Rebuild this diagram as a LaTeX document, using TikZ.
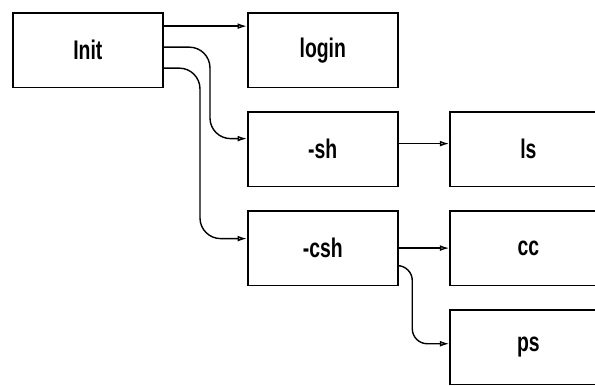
\documentclass[tikz,border=0pt]{standalone}
\usepackage{fontspec}
\usetikzlibrary{positioning,arrows.meta}
\newfontfamily\procfont{Liberation Sans}[FakeStretch=0.72]

\begin{document}
\begin{tikzpicture}[node distance=0.68cm and 2.5cm,>={Latex[open,length=8pt,width=5pt]},
  proc/.style={draw,line width=1.4pt,minimum width=4.5cm,minimum height=2.24cm,
               font=\procfont\bfseries\fontsize{23}{27}\selectfont},
  child/.style={proc,minimum width=4.7cm,anchor=west},
  link/.style={->,line width=1.2pt,rounded corners=0.62cm}]
\useasboundingbox (0,0) rectangle (17.85,-11.55);
\node[proc,anchor=north west] (init) at (0.36,-0.36) {Init};
\node[proc,right=of init] (login) {login};
\node[proc,below=of login] (sh) {-sh};
\node[proc,below=of sh] (csh) {-csh};
\node[child,right=1.52cm of sh] (ls) {ls};
\node[child,right=1.52cm of csh] (cc) {cc};
\node[child,below=0.68cm of cc.south west,anchor=north west] (ps) {ps};
\draw[link] ([yshift=0.72cm]init.east) -- ([yshift=0.72cm]init.east -| login.west);
\draw[link] ([yshift=0.09cm]init.east) -| ([xshift=-1.11cm,yshift=0.315cm]sh.west) -- ([yshift=0.315cm]sh.west);
\draw[link] ([yshift=-0.54cm]init.east) -| ([xshift=-1.41cm,yshift=0.285cm]csh.west) -- ([yshift=0.285cm]csh.west);
\draw[link] ([yshift=0.165cm]sh.east) -- ([yshift=0.165cm]sh.east -| ls.west);
\draw[link] (csh.east) -- (csh.east -| cc.west);
\draw[link,rounded corners=0.45cm] ([yshift=-0.525cm]csh.east) -| ([xshift=-1.11cm,yshift=0.1cm]ps.west) -- ([yshift=0.1cm]ps.west);
\end{tikzpicture}
\end{document}
